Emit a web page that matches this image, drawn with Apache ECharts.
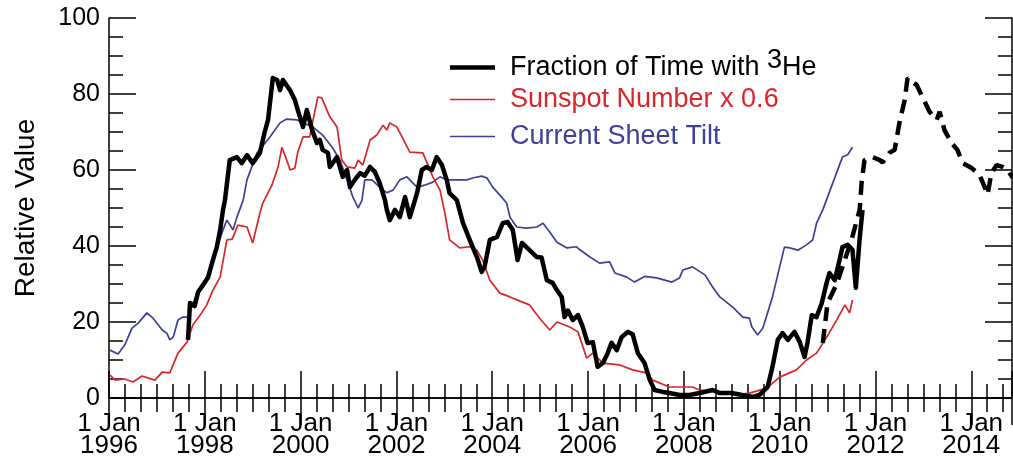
<!DOCTYPE html>
<html>
<head>
<meta charset="utf-8">
<script src="https://cdn.jsdelivr.net/npm/echarts@6/dist/echarts.min.js"></script>
<style>html,body{margin:0;padding:0;background:#fff}#c{width:1013px;height:457px}</style>
</head>
<body>
<div id="c"></div>
<script>
// ---- Data (decimal year, relative value) ----
const seriesNames = ['Fraction of Time with 3He', 'Sunspot Number x 0.6', 'Current Sheet Tilt'];
const yTicks = [0, 20, 40, 60, 80, 100];
const xTickYears = [1996, 1998, 2000, 2002, 2004, 2006, 2008, 2010, 2012, 2014];

const tiltYears = [1996.02,1996.19,1996.33,1996.48,1996.61,1996.79,1996.92,1997.11,1997.21,1997.27,1997.34,1997.44,1997.54,1997.65,1997.84,1998.00,1998.17,1998.38,1998.46,1998.59,1998.67,1998.80,1998.88,1999.09,1999.36,1999.57,1999.71,1999.92,2000.05,2000.26,2000.46,2000.67,2000.82,2000.97,2001.09,2001.20,2001.28,2001.34,2001.49,2001.65,2001.80,2001.93,2002.07,2002.22,2002.34,2002.43,2002.59,2002.76,2002.91,2003.05,2003.26,2003.47,2003.59,2003.78,2003.89,2004.01,2004.16,2004.30,2004.37,2004.51,2004.72,2004.93,2005.06,2005.20,2005.35,2005.56,2005.76,2005.83,2006.04,2006.24,2006.45,2006.56,2006.81,2006.97,2007.18,2007.43,2007.75,2007.91,2007.98,2008.18,2008.44,2008.60,2008.75,2009.02,2009.23,2009.37,2009.42,2009.54,2009.65,2009.85,2010.00,2010.10,2010.21,2010.38,2010.56,2010.69,2010.77,2010.90,2011.11,2011.31,2011.42,2011.52];
const tiltValues = [12.6,11.6,14,18.4,19.7,22.4,21,17.9,17,15.3,16,20.5,21.3,21.3,27.6,30.5,36.3,44.2,46.8,44.2,47.6,52,57.4,64.5,68.7,72.4,73.4,73.2,72.4,71.3,69.2,65.8,62.6,57.4,52.9,50,52,57.4,57.4,55.5,54,54.7,57.4,58.2,56.6,55.5,56,56.8,58.2,57.4,57.4,57.4,57.9,58.4,57.9,55.5,53.4,51.3,47.6,45,44.7,45,46,43.7,41,39.5,39.8,39,37.1,35.5,35.8,32.9,31.8,30.5,32,31.6,30.5,31.6,33.7,34.5,32.4,29.2,26.6,23.9,21.3,21,18.7,16.6,18.4,26.6,34.5,39.7,39.5,38.9,40.3,41.6,46,49.5,56.6,63.4,64,66];

const sunspotYears = [1996.02,1996.13,1996.33,1996.50,1996.69,1996.81,1996.96,1997.11,1997.27,1997.44,1997.63,1997.75,1997.90,1998.04,1998.17,1998.32,1998.46,1998.57,1998.69,1998.88,1999.00,1999.15,1999.21,1999.40,1999.53,1999.61,1999.71,1999.78,1999.88,1999.94,2000.05,2000.19,2000.26,2000.36,2000.44,2000.61,2000.76,2000.86,2000.97,2001.13,2001.20,2001.30,2001.45,2001.59,2001.72,2001.80,2001.86,2002.01,2002.13,2002.28,2002.55,2002.66,2002.76,2002.91,2003.01,2003.11,2003.32,2003.53,2003.68,2003.80,2003.95,2004.16,2004.37,2004.58,2004.78,2004.99,2005.20,2005.35,2005.62,2005.79,2005.97,2006.10,2006.31,2006.66,2006.93,2007.22,2007.35,2007.70,2008.18,2008.33,2008.69,2009.10,2009.37,2009.73,2010.00,2010.35,2010.56,2010.77,2010.98,2011.19,2011.36,2011.46,2011.52];
const sunspotValues = [6,4.7,5,4.2,5.8,5.3,4.7,6.8,6.6,11.8,14.7,19.2,21.8,24.5,28.4,31.8,41.6,41.8,45.5,45,40.8,48.7,51.3,56,60.8,66,62.6,60,60.5,64.7,68.7,68.7,73.2,79.2,79,74,71.3,62.6,60.8,60.5,62.6,61.3,67.9,69.2,71.8,70.5,72.4,71.3,68.4,64.7,64.5,61.3,58.2,54.7,48.7,41.6,39.5,39.8,38.9,36.3,31,27.6,26.6,25.5,24.5,21,17.9,20,18.7,17.4,10.5,11.8,9.2,8.7,7.4,6.6,4.7,2.9,2.9,2.1,1.6,0.8,1.3,2.6,5.5,7.4,10,11.8,16,20.5,24.5,22.4,25.8];

const he3Years = [1997.65,1997.69,1997.79,1997.86,1997.96,1998.07,1998.15,1998.25,1998.32,1998.38,1998.42,1998.52,1998.67,1998.77,1998.88,1999.00,1999.15,1999.25,1999.32,1999.42,1999.51,1999.57,1999.63,1999.78,1999.88,1999.94,2000.05,2000.13,2000.24,2000.34,2000.40,2000.46,2000.57,2000.61,2000.76,2000.88,2000.97,2001.03,2001.13,2001.24,2001.34,2001.45,2001.55,2001.65,2001.76,2001.80,2001.86,2001.97,2002.07,2002.18,2002.28,2002.43,2002.53,2002.63,2002.74,2002.84,2002.95,2003.05,2003.11,2003.26,2003.39,2003.53,2003.68,2003.78,2003.84,2003.95,2004.10,2004.22,2004.32,2004.43,2004.53,2004.62,2004.78,2004.93,2005.03,2005.14,2005.26,2005.35,2005.45,2005.51,2005.58,2005.68,2005.79,2005.89,2005.99,2006.10,2006.20,2006.31,2006.41,2006.49,2006.60,2006.70,2006.83,2006.93,2007.04,2007.18,2007.29,2007.39,2007.56,2007.70,2007.91,2008.12,2008.33,2008.60,2008.75,2009.00,2009.21,2009.44,2009.58,2009.75,2009.85,2009.96,2010.06,2010.17,2010.31,2010.42,2010.52,2010.58,2010.67,2010.77,2010.88,2010.98,2011.04,2011.15,2011.25,2011.31,2011.42,2011.52,2011.59,2011.67,2011.73];
const he3Values = [15.3,25,24.2,27.9,29.7,31.8,35.5,39.7,44.2,49.5,52,62.6,63.4,61.8,63.9,61.8,64.5,70,73.2,84.2,83.7,81,83.7,81,78.4,75.8,71.3,75.8,70.5,67.1,67.9,65.3,64.5,60.8,63.4,58.2,60,55.5,57.4,59.2,58.5,60.8,59.5,56.6,52.1,49.5,46.8,49.5,47.6,52.9,47.6,53.9,60,60.8,60,63.4,61.3,57.4,53.9,52.1,46,41.6,37.1,33.2,34.5,41.6,42.4,46,46.3,44.2,36.3,40.8,38.9,37.1,37,31,30.3,28.4,26.6,21.3,23,20.5,21.8,18.7,14.5,14.7,8.2,9.2,11.8,14.5,12.6,16,17.4,16.8,11.8,9.2,4.7,2.1,1.6,1.3,0.8,0.8,1.3,2.1,1.3,1.3,0.8,0.3,0.8,2.9,8.2,15.3,17.1,15.3,17.4,14.7,10.8,14.5,21.8,21.3,25,30.3,32.9,31,36.3,39.7,40.3,39,29,42,49.5];

const he3PredYears = [2010.90,2011.00,2011.19,2011.50,2011.67,2011.71,2011.77,2011.94,2012.09,2012.15,2012.29,2012.40,2012.50,2012.61,2012.67,2012.77,2012.86,2012.98,2013.13,2013.28,2013.34,2013.44,2013.59,2013.71,2013.82,2014.01,2014.17,2014.28,2014.34,2014.42,2014.53,2014.65,2014.76,2014.86];
const he3PredValues = [14.5,25,30,41.6,49.5,56.6,62.6,63.4,62.6,62,64.5,65.3,72.4,78.4,84.2,83.2,82.4,79.2,75.3,73.2,75.3,70.5,67.1,65.3,61.8,60.5,58.7,55.5,53.5,59.2,61.3,60.8,60,58];

const zip = (a, b) => a.map((x, i) => [x, b[i]]);

const FONT = '"Liberation Sans", Arial, Helvetica, sans-serif';
const RED = '#d9262b', BLUE = '#3d3f98', BLACK = '#000';
const X_MIN = 1996, X_MAX = 2014.85;

const chart = echarts.init(document.getElementById('c'), null, {renderer: 'canvas'});

const tickCommon = {
  axisLine: {show: true, lineStyle: {color: '#000', width: 1.5}},
  axisTick: {show: true, inside: true, length: 27, lineStyle: {color: '#000', width: 1.5}},
  minorTick: {show: true, length: 14, lineStyle: {color: '#000', width: 1.5}},
  splitLine: {show: false}, minorSplitLine: {show: false}
};

const legendText = {fontFamily: FONT, fontSize: 27, lineHeight: 25, padding: [0, 0, 0, 10]};

chart.setOption({
  animation: false,
  backgroundColor: '#fff',
  textStyle: {fontFamily: FONT},
  grid: {left: 109, right: 1, top: 18, bottom: 59, containLabel: false, outerBoundsMode: 'none'},
  legend: [
    {
      orient: 'vertical', left: 445, top: 42,
      icon: 'rect', itemWidth: 45, itemHeight: 4.5,
      data: [{name: seriesNames[0], textStyle: {color: BLACK}}],
      textStyle: Object.assign({}, legendText, {
        rich: {sup: {fontSize: 27, fontFamily: FONT, color: BLACK, padding: [0, 0, 14, 0]},
               base: {fontSize: 27, fontFamily: FONT, color: BLACK}}}),
      formatter: n => '{base|Fraction of Time with }{sup|3}{base|He}',
      selectedMode: false
    },
    {
      orient: 'vertical', left: 445, top: 81,
      icon: 'rect', itemWidth: 45, itemHeight: 1.7, itemGap: 10,
      data: [
        {name: seriesNames[1], textStyle: {color: RED}},
        {name: seriesNames[2], textStyle: {color: BLUE}}
      ],
      textStyle: legendText,
      selectedMode: false
    }
  ],
  xAxis: [
    Object.assign({}, tickCommon, {
      type: 'value', min: X_MIN, max: X_MAX, interval: 2, position: 'bottom',
      minorTick: Object.assign({}, tickCommon.minorTick, {splitNumber: 6}),
      axisLabel: {show: true, color: '#000', fontFamily: FONT, fontSize: 26, lineHeight: 22, margin: 15,
        showMaxLabel: false,
        formatter: v => xTickYears.includes(v) ? '1 Jan\n' + v : ''}
    }),
    Object.assign({}, tickCommon, {
      type: 'value', min: X_MIN, max: X_MAX, interval: 2, position: 'top',
      minorTick: Object.assign({}, tickCommon.minorTick, {splitNumber: 6}),
      axisLabel: {show: false}
    })
  ],
  yAxis: [
    Object.assign({}, tickCommon, {
      type: 'value', min: yTicks[0], max: yTicks[yTicks.length - 1], interval: 20, position: 'left',
      minorTick: Object.assign({}, tickCommon.minorTick, {splitNumber: 4}),
      axisLabel: {show: true, color: '#000', fontFamily: FONT, fontSize: 25, margin: 9},
      name: 'Relative Value', nameLocation: 'middle', nameGap: 69,
      nameTextStyle: {color: '#000', fontFamily: FONT, fontSize: 28}
    }),
    Object.assign({}, tickCommon, {
      type: 'value', min: yTicks[0], max: yTicks[yTicks.length - 1], interval: 20, position: 'right',
      minorTick: Object.assign({}, tickCommon.minorTick, {splitNumber: 4}),
      axisLabel: {show: false}
    })
  ],
  series: [
    {name: seriesNames[2], type: 'line', data: zip(tiltYears, tiltValues), symbol: 'none',
     lineStyle: {color: BLUE, width: 1.7}, itemStyle: {color: BLUE}, z: 2},
    {name: seriesNames[1], type: 'line', data: zip(sunspotYears, sunspotValues), symbol: 'none',
     lineStyle: {color: RED, width: 1.7}, itemStyle: {color: RED}, z: 3},
    {name: seriesNames[0], type: 'line', data: zip(he3Years, he3Values), symbol: 'none',
     lineStyle: {color: BLACK, width: 4.5, join: 'round'}, itemStyle: {color: BLACK}, z: 4},
    {name: 'Predicted', type: 'line', data: zip(he3PredYears, he3PredValues), symbol: 'none',
     lineStyle: {color: BLACK, width: 4.5, type: [14, 8]}, itemStyle: {color: BLACK}, z: 4}
  ]
});
</script>
</body>
</html>
